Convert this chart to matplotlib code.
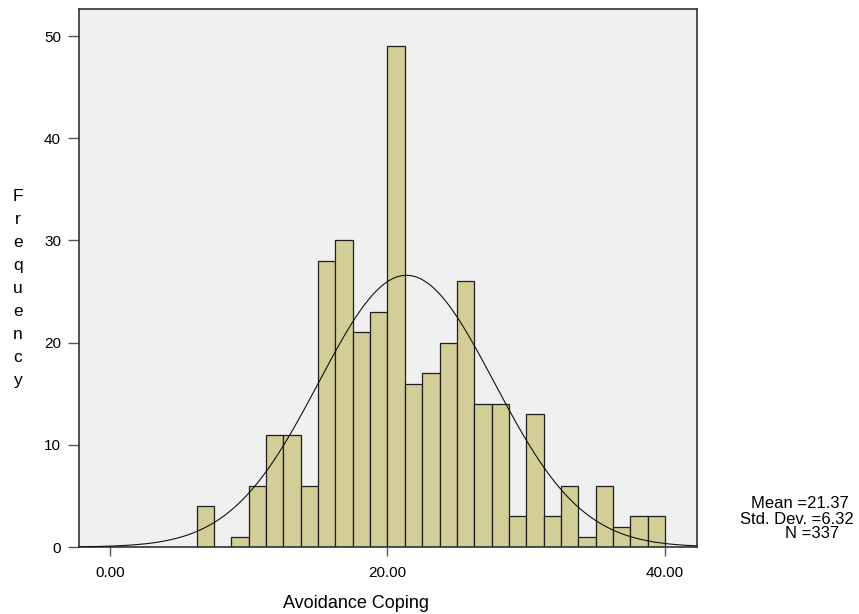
import numpy as np
import matplotlib
matplotlib.use("Agg")
import matplotlib.pyplot as plt

# histogram of Avoidance Coping (SPSS style)
counts = [4, 0, 1, 6, 11, 11, 6, 28, 30, 21, 23, 49, 16, 17, 20, 26,
          14, 14, 3, 13, 3, 6, 1, 6, 2, 3, 3]
bin_start = 6.25
bin_width = 1.25
mean = 21.37
std = 6.32
n = 337
x_ticks = [0, 20, 40]
x_tick_labels = ["0.00", "20.00", "40.00"]
y_ticks = [0, 10, 20, 30, 40, 50]

plt.rcParams['font.family'] = ['Liberation Sans', 'DejaVu Sans']

fig = plt.figure(figsize=(8.59, 6.14), dpi=100)
ax = fig.add_axes([0.092, 0.1091, 0.7194, 0.8762])
ax.set_facecolor('#f0f0f0')

edges = bin_start + bin_width * np.arange(len(counts) + 1)
centers = (edges[:-1] + edges[1:]) / 2
ax.bar(centers, counts, width=bin_width, color='#d3ce97',
       edgecolor='#1e1e1e', linewidth=0.9, zorder=2)

# fitted normal curve
xs = np.linspace(-2.23, 42.3, 500)
ys = n * bin_width / (std * np.sqrt(2 * np.pi)) * np.exp(-0.5 * ((xs - mean) / std) ** 2)
ax.plot(xs, ys, color='#111111', linewidth=0.8, zorder=3)

ax.set_xlim(-2.234, 42.31)
ax.set_ylim(0, 52.65)
ax.set_xticks(x_ticks)
ax.set_xticklabels(x_tick_labels)
ax.set_yticks(y_ticks)
ax.tick_params(axis='x', length=6.5, width=1, color='#555555', pad=7, labelsize=11)
ax.tick_params(axis='y', length=8, width=1, color='#555555', pad=5, labelsize=11)
for s in ax.spines.values():
    s.set_color('#333333')
    s.set_linewidth(1.2)

fig.text(356 / 859, 1 - 603 / 614, "Avoidance Coping", ha='center', va='center', fontsize=13)

# vertical "Frequency" stacked letters
for i, ch in enumerate("Frequency"):
    fig.text(18 / 859, 1 - (197 + i * 22.9) / 614, ch, ha='center', va='center', fontsize=12.5)

fig.text(849 / 859, 1 - 504 / 614, "Mean =%.2f" % mean, ha='right', va='center', fontsize=12)
fig.text(854 / 859, 1 - 519 / 614, "Std. Dev. =%.2f" % std, ha='right', va='center', fontsize=12)
fig.text(839 / 859, 1 - 534 / 614, "N =%d" % n, ha='right', va='center', fontsize=12)

fig.savefig("out.png", dpi=100)
